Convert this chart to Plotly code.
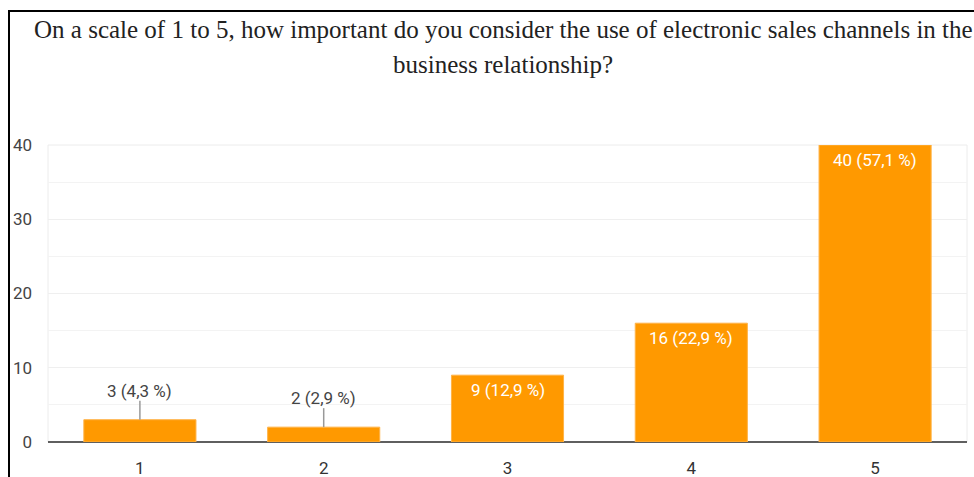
import plotly.graph_objects as go

# Survey responses: importance rating (1-5) and number of respondents
ratings = [1, 2, 3, 4, 5]
counts = [3, 2, 9, 16, 40]
y_ticks = [0, 10, 20, 30, 40]

title_lines = [
    "On a scale of 1 to 5, how important do you consider the use of electronic sales channels in the",
    "business relationship?",
]

W, H = 974, 477
ML, MR, MT, MB = 48, 7, 145, 35
PW, PH = W - ML - MR, H - MT - MB


def px_x(p):
    return (p - ML) / PW


def px_y(p):
    return (H - MB - p) / PH


total = sum(counts)
labels = [f"{c} ({c / total * 100:.1f} %)".replace(".", ",") for c in counts]

BAR = "#ff9900"
LABEL_FONT = "Roboto, Arial, sans-serif"

fig = go.Figure(
    go.Bar(
        x=ratings,
        y=counts,
        width=0.61,
        marker=dict(color=BAR, line=dict(color="#ffb347", width=1)),
        hoverinfo="skip",
    )
)

annotations = []
shapes = []

# value labels: inside the bar when tall enough, otherwise above with a leader line
for r, c, t in zip(ratings, counts, labels):
    if c >= 5:
        annotations.append(dict(
            x=r, y=c, xref="x", yref="y", text=t, showarrow=False,
            yanchor="middle", yshift=-15,
            font=dict(family=LABEL_FONT, size=17, color="white"),
        ))
    else:
        annotations.append(dict(
            x=r, y=c, xref="x", yref="y", text=t, showarrow=False,
            yanchor="middle", yshift=29,
            font=dict(family=LABEL_FONT, size=17, color="#444444"),
        ))
        shapes.append(dict(
            type="line", xref="x", yref="y", x0=r, x1=r,
            ysizemode="pixel", yanchor=c, y0=0, y1=19,
            line=dict(color="#999999", width=1.5), layer="above",
        ))

# chart title in two centred lines
for text, yc in zip(title_lines, [29, 64]):
    annotations.append(dict(
        x=px_x(503), y=px_y(yc), xref="paper", yref="paper", text=text,
        showarrow=False, xanchor="center", yanchor="middle",
        font=dict(family="Liberation Serif, Times New Roman, serif", size=25, color="#222222"),
    ))

# light frame around the plotting area
shapes.append(dict(
    type="rect", xref="paper", yref="paper", x0=0, x1=1, y0=0, y1=1,
    line=dict(color="#ececec", width=1), layer="below",
))
# black outline along top and left edges
shapes.append(dict(
    type="line", xref="paper", yref="paper",
    x0=px_x(8), x1=px_x(975), y0=px_y(11), y1=px_y(11),
    line=dict(color="black", width=2),
))
shapes.append(dict(
    type="line", xref="paper", yref="paper",
    x0=px_x(9), x1=px_x(9), y0=px_y(11), y1=px_y(478),
    line=dict(color="black", width=2),
))

fig.update_layout(
    width=W, height=H,
    margin=dict(l=ML, r=MR, t=MT, b=MB, pad=0, autoexpand=False),
    paper_bgcolor="white", plot_bgcolor="white",
    showlegend=False,
    annotations=annotations,
    shapes=shapes,
    font=dict(family=LABEL_FONT, size=17, color="#444444"),
)
fig.update_xaxes(
    range=[0.5, 5.5], tickvals=ratings, ticktext=[str(r) for r in ratings],
    showgrid=False, showline=False, zeroline=False, ticks="",
    tickfont=dict(size=17, color="#333333"), ticklabelstandoff=14,
    automargin=False,
)
fig.update_yaxes(
    range=[0, 40], tickvals=y_ticks, showgrid=True, gridcolor="#efefef",
    minor=dict(dtick=5, showgrid=True, gridcolor="#f3f3f3"),
    zeroline=True, zerolinecolor="#5f5f5f", zerolinewidth=2,
    showline=False, ticks="", ticklabelstandoff=15,
    tickfont=dict(size=17, color="#444444"),
    automargin=False,
)

fig.write_html("out.html")
